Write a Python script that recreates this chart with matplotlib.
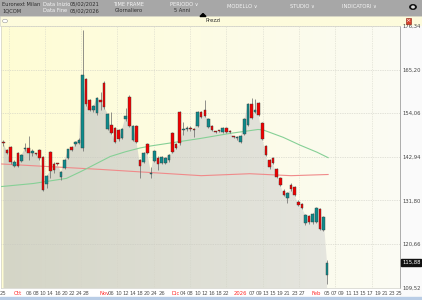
import numpy as np
import pandas as pd
import matplotlib
matplotlib.use("Agg")
import matplotlib.pyplot as plt
from matplotlib.patches import Rectangle, Circle, Polygon

# trading days shown (Borsa Italiana holidays removed)
holidays = ["2025-12-24", "2025-12-25", "2025-12-26", "2025-12-31", "2026-01-01"]
days = [d for d in pd.bdate_range("2025-09-25", "2026-02-05") if d.strftime("%Y-%m-%d") not in holidays]

opens = [146.8, 144.7, 145.5, 140.6, 143.8, 141.8, 144.8, 145.2, 143.9, 143.7,
         144.6, 142.8, 136.1, 144.1, 141.2, 141.2, 137.8, 140.1, 142.7, 145.4,
         146.1, 146.5, 145.1, 162.7, 157.4, 155.0, 154.0, 157.4, 161.9, 150.0,
         151.0, 150.2, 149.8, 147.8, 152.5, 158.3, 147.2, 150.8, 142.1, 141.7,
         146.2, 138.5, 141.8, 142.7, 141.4, 141.4, 142.0, 148.9, 146.2, 154.4,
         149.7, 149.9, 150.4, 149.8, 150.8, 154.4, 154.9, 150.5, 150.8, 149.3,
         149.5, 149.3, 150.3, 149.4, 148.1, 147.6, 146.8, 148.7, 151.0, 156.4,
         154.4, 156.7, 151.5, 145.7, 142.1, 142.5, 139.8, 137.4, 134.3, 132.3,
         135.7, 135.1, 131.5, 130.9, 125.9, 127.8, 126.3, 126.3, 129.5, 124.2,
         112.6]
highs = [147.2, 145.0, 145.8, 142.0, 144.2, 143.6, 146.4, 148.3, 144.8, 143.9,
         145.0, 143.2, 138.3, 144.5, 141.5, 141.4, 139.4, 142.3, 145.0, 145.8,
         147.0, 147.6, 175.3, 163.0, 157.7, 156.2, 158.3, 159.4, 162.2, 154.2,
         154.4, 150.5, 150.1, 150.3, 155.4, 158.6, 151.1, 151.1, 142.4, 144.1,
         146.5, 140.4, 144.7, 143.0, 143.2, 142.9, 143.6, 149.2, 146.5, 154.7,
         151.9, 150.7, 150.7, 150.3, 154.7, 154.7, 157.5, 152.9, 151.1, 149.6,
         149.8, 150.6, 150.6, 149.7, 148.3, 148.3, 148.5, 152.9, 156.7, 157.9,
         157.6, 157.0, 151.8, 146.0, 142.4, 142.8, 140.1, 137.7, 134.6, 134.0,
         136.3, 135.4, 131.8, 131.2, 128.3, 128.1, 128.5, 130.1, 129.8, 127.8,
         116.5]
lows = [145.8, 143.7, 141.2, 140.3, 140.3, 141.5, 144.4, 142.1, 143.0, 143.3,
        142.0, 134.2, 135.0, 137.5, 138.9, 140.8, 137.0, 139.8, 142.4, 144.3,
        145.8, 146.2, 144.3, 156.0, 154.5, 154.3, 153.6, 155.0, 155.2, 149.7,
        148.8, 146.4, 147.0, 147.5, 152.0, 150.5, 146.9, 146.5, 137.5, 141.4,
        143.7, 137.4, 141.5, 139.5, 141.0, 141.1, 141.7, 143.9, 144.8, 146.0,
        148.5, 149.5, 149.6, 148.0, 150.5, 152.9, 153.0, 150.2, 149.5, 149.0,
        149.2, 149.0, 149.0, 149.1, 147.8, 147.3, 146.5, 148.4, 150.7, 152.5,
        154.1, 153.3, 147.1, 143.2, 139.9, 141.0, 137.5, 135.4, 132.9, 131.0,
        134.3, 132.9, 130.3, 129.5, 125.6, 125.8, 125.8, 126.0, 124.1, 123.9,
        110.4]
closes = [146.4, 144.0, 141.5, 141.7, 140.6, 143.3, 145.2, 144.0, 144.3, 143.6,
          142.5, 134.4, 138.0, 139.3, 139.5, 141.0, 139.0, 142.1, 144.8, 144.6,
          146.8, 147.2, 163.8, 156.4, 154.9, 155.9, 157.9, 157.0, 155.6, 153.9,
          149.1, 146.8, 147.4, 150.0, 153.3, 150.8, 150.8, 146.8, 140.6, 143.8,
          144.0, 138.9, 144.4, 141.1, 142.9, 142.6, 143.4, 144.2, 145.1, 146.4,
          150.0, 150.4, 149.9, 149.7, 154.4, 153.2, 153.3, 152.6, 149.8, 149.2,
          149.4, 150.3, 149.3, 149.3, 148.0, 148.0, 148.2, 152.6, 156.4, 152.8,
          154.8, 153.6, 147.4, 143.5, 140.2, 141.3, 137.8, 135.7, 133.2, 133.7,
          134.6, 133.2, 130.6, 129.8, 128.0, 126.3, 128.2, 129.8, 124.4, 127.5,
          115.88]

# moving averages read at a few candle positions
ma_short_x = [-0.8, 8.3, 17.5, 21.4, 24.2, 29.7, 33.9, 38.1, 41, 54.7, 63, 70.8, 72.2, 77.8, 82.5, 87.2, 90.3]
ma_short = [135.3, 136.1, 137.4, 139.1, 140.4, 143.0, 144.2, 145.2, 145.7, 147.6, 148.9, 149.9, 149.8, 147.9, 145.9, 144.1, 142.7]
ma_long_x = [-0.8, 13, 27, 41, 55, 68.5, 80, 90.3]
ma_long = [141.1, 140.4, 139.7, 138.9, 138.1, 138.6, 138.1, 138.4]

price_ticks = [109.52, 120.66, 131.80, 142.94, 154.06, 165.20, 176.34]
last_price = 115.88

x_tick_dates = ["2025-09-25", "2025-10-01", "2025-10-06", "2025-10-08", "2025-10-10", "2025-10-14",
                "2025-10-16", "2025-10-20", "2025-10-22", "2025-10-24", "2025-10-28", "2025-11-04",
                "2025-11-06", "2025-11-10", "2025-11-12", "2025-11-14", "2025-11-18", "2025-11-20",
                "2025-11-24", "2025-11-26", "2025-12-02", "2025-12-04", "2025-12-08", "2025-12-10",
                "2025-12-12", "2025-12-16", "2025-12-18", "2025-12-22", "2026-01-02", "2026-01-07",
                "2026-01-09", "2026-01-13", "2026-01-15", "2026-01-19", "2026-01-21", "2026-01-23",
                "2026-01-27", "2026-02-02", "2026-02-05"]
x_tick_labels = ["25", "Ott", "06", "08", "10", "14", "16", "20", "22", "24", "28", "Nov",
                 "06", "10", "12", "14", "18", "20", "24", "26", "Dic", "04", "08", "10",
                 "12", "16", "18", "22", "2026", "07", "09", "13", "15", "19", "21", "23",
                 "27", "Feb", "05"]
future_labels = ["07", "09", "11", "13", "15", "17", "19", "21", "23", "25"]
month_labels = ["Ott", "Nov", "Dic", "2026", "Feb"]

W, H = 422, 300
fig = plt.figure(figsize=(W / 100, H / 100), dpi=100)
fig.patch.set_facecolor("white")

def fx(px):
    return px / W

def fy(py):
    return 1 - py / H

def frect(px, py, w, h, **kw):
    # rectangle in pixel units (top-left corner), drawn behind the axes
    kw.setdefault("zorder", -5)
    fig.patches.append(Rectangle((fx(px), fy(py + h)), w / W, h / H, transform=fig.transFigure, **kw))

# top toolbar and frames
frect(0, 0, W, 16, color="#a7a7a7")
frect(0, 16.5, W, 9, facecolor="#fdfbdc", edgecolor="#d8d8c8", lw=0.5)
frect(400, 25.5, 22, 271.5, color="#fafafa")
frect(0, 297, W, 3, color="#b9cde6")

dark = "#2e2e2e"
light = "#f4f4f4"
fs = 3.7
fig.text(fx(2), fy(4.5), "Euronext Milan", fontsize=fs, color=dark, va="center")
fig.text(fx(2), fy(11), "1QCOM", fontsize=fs, color=dark, va="center")
fig.text(fx(43), fy(4.5), "Data Inizio", fontsize=fs, color=light, va="center")
fig.text(fx(70), fy(4.5), "05/02/2021", fontsize=fs, color=dark, va="center")
fig.text(fx(43), fy(11), "Data Fine", fontsize=fs, color=light, va="center")
fig.text(fx(70), fy(11), "05/02/2026", fontsize=fs, color=dark, va="center")
fig.text(fx(129), fy(4.5), "TIME FRAME", fontsize=fs, color=light, va="center", ha="center")
fig.text(fx(129), fy(11), "Giornaliero", fontsize=fs, color=dark, va="center", ha="center")
fig.text(fx(184), fy(4.5), "PERIODO ∨", fontsize=fs, color=light, va="center", ha="center")
fig.text(fx(182), fy(11), "5 Anni", fontsize=fs, color=dark, va="center", ha="center")
for px, t in [(242, "MODELLO ∨"), (302, "STUDIO ∨"), (359, "INDICATORI ∨")]:
    fig.text(fx(px), fy(7), t, fontsize=fs, color=light, va="center", ha="center")
fig.patches.append(Circle((fx(413), fy(7)), 3.2 / W, transform=fig.transFigure, color="#111111"))
fig.patches.append(Circle((fx(413), fy(7)), 1.2 / W, transform=fig.transFigure, color="#dddddd"))
fig.patches.append(Polygon([(fx(200), fy(16.5)), (fx(206), fy(16.5)), (fx(203), fy(13.5))],
                           transform=fig.transFigure, color="black"))
fig.text(fx(213), fy(21), "Prezzi", fontsize=3.8, color=dark, va="center", ha="center")
fig.patches.append(Circle((fx(5), fy(21)), 2.5 / W, transform=fig.transFigure, facecolor="white",
                          edgecolor="#999999", lw=0.4))
frect(405.5, 18.5, 5, 5, facecolor="#d9412b", edgecolor="#8a2010", lw=0.4, zorder=1)
fig.text(fx(408), fy(21), "×", fontsize=4.5, color="white", va="center", ha="center")

ax = fig.add_axes([fx(0.5), fy(288), fx(399.5), (288 - 25.5) / H])
n = len(closes)
x = np.arange(n)
x0, x1 = -0.83, 110.3
y0, y1 = 109.40, 176.47

# background gradient
t = np.linspace(0, 1, 256)
left = np.array([255, 253, 212]) / 255
right = np.array([251, 251, 244]) / 255
bg = (left[None, :] * (1 - t[:, None]) + right[None, :] * t[:, None])[None, :, :]
ax.imshow(bg, extent=[x0, x1, y0, y1], aspect="auto", zorder=0, interpolation="bilinear")

# grey area under closes
area = ax.fill_between(x, closes, y0, color="none", lw=0)
fl = np.array([212, 213, 198]) / 255
fr = np.array([233, 233, 228]) / 255
fg = (fl[None, :] * (1 - t[:, None]) + fr[None, :] * t[:, None])[None, :, :]
fim = ax.imshow(fg, extent=[x0, x1, y0, y1], aspect="auto", zorder=1, interpolation="bilinear")
fim.set_clip_path(area.get_paths()[0], ax.transData)

# grid
for v in price_ticks:
    ax.axhline(v, color="#c8c8c0", lw=0.5, ls=(0, (1, 1.5)), zorder=2)
for gx in np.arange(1.4, x1, 10.1):
    ax.axvline(gx, color="#d4d4c8", lw=0.5, ls=(0, (1, 1.5)), zorder=2)

# moving averages
ax.plot(ma_long_x, ma_long, color="#f08a8a", lw=0.8, zorder=3)
ax.plot(ma_short_x, ma_short, color="#86d096", lw=0.8, zorder=3)

# candles
for i in range(n):
    o, h, l, c = opens[i], highs[i], lows[i], closes[i]
    col = "#0d8c8c" if c >= o else "#f20000"
    ax.vlines(i, l, h, color="#666666", lw=0.5, zorder=4)
    bot = min(o, c)
    hgt = max(abs(c - o), 0.3)
    ax.add_patch(Rectangle((i - 0.36, bot), 0.72, hgt, facecolor=col, edgecolor="#3a3a3a", lw=0.3, zorder=5))

ax.set_xlim(x0, x1)
ax.set_ylim(y0, y1)

# axes labels
date_index = {d.strftime("%Y-%m-%d"): k for k, d in enumerate(days)}
pos = [date_index[d] for d in x_tick_dates] + [n - 1 + 2 * (k + 1) for k in range(len(future_labels))]
labs = x_tick_labels + future_labels
ax.set_xticks(pos, labs)
ax.tick_params(axis="x", length=0, pad=2.2, labelsize=3.8, labelcolor="#555555")
for lab in ax.get_xticklabels():
    if lab.get_text() in month_labels:
        lab.set_color("#ff2a2a")

ax.yaxis.tick_right()
ax.set_yticks(price_ticks, [f"{v:.2f}".replace(".", ",") for v in price_ticks])
ax.tick_params(axis="y", length=0, pad=2.0, labelsize=3.8, labelcolor="#444444")

ax.text(1.005, last_price, f"{last_price:.2f}".replace(".", ","), transform=ax.get_yaxis_transform(),
        fontsize=3.8, color="white", va="center", ha="left", clip_on=False,
        bbox=dict(boxstyle="square,pad=0.15", fc="#111111", ec="#111111"))

for s in ["top", "bottom", "left"]:
    ax.spines[s].set_color("#d0d0c8")
    ax.spines[s].set_linewidth(0.5)
ax.spines["right"].set_color("#a0a0a0")
ax.spines["right"].set_linewidth(0.6)

fig.savefig("out.png", dpi=100)
